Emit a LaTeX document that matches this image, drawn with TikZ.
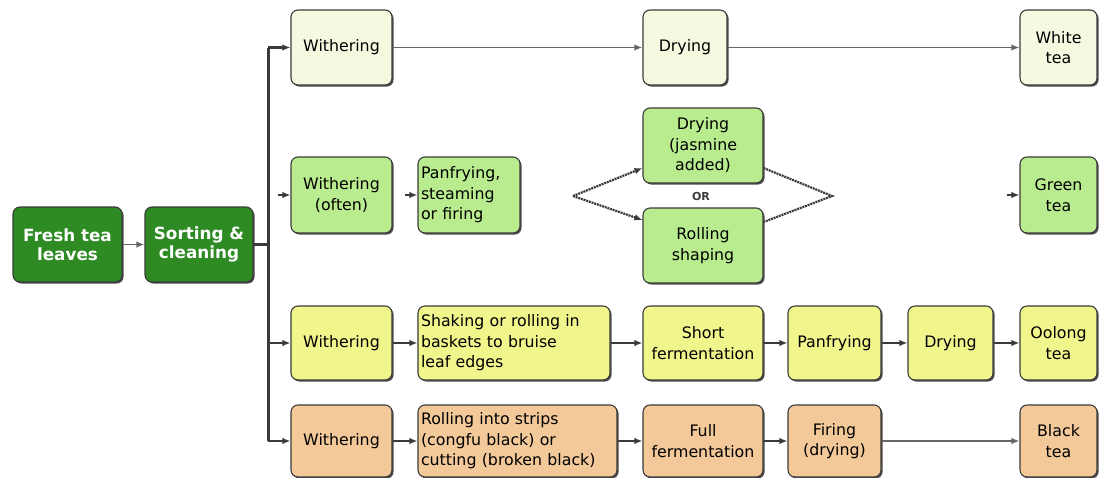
\documentclass[tikz,border=0pt]{standalone}
\usepackage{fontspec}
\setmainfont{DejaVu Sans}
\usetikzlibrary{arrows.meta,shadows}
\definecolor{darkg}{HTML}{2E8B24}
\definecolor{rowA}{HTML}{F4FAE0}
\definecolor{rowB}{HTML}{B9EC8E}
\definecolor{rowC}{HTML}{F0F58C}
\definecolor{rowD}{HTML}{F3C99A}
\definecolor{edge}{HTML}{3A3A3A}
\tikzset{
  box/.style={rectangle, rounded corners=7pt, draw=edge, line width=1.1pt, inner sep=2pt,
    font=\fontsize{15.8}{20.5}\selectfont, align=center,
    drop shadow={shadow xshift=1.6pt, shadow yshift=-1.6pt, fill=black!70, opacity=1}},
  startbox/.style={box, fill=darkg, text=white, font=\bfseries\fontsize{16.8}{19}\selectfont},
  wa/.style={box, fill=rowA}, wb/.style={box, fill=rowB}, wc/.style={box, fill=rowC}, wd/.style={box, fill=rowD},
  tip/.style={-{Latex[length=8pt,width=6.5pt]}},
  thin/.style={tip, draw=black!60, line width=1.7pt},
  thick/.style={tip, draw=edge, line width=2.6pt},
  trunk/.style={draw=edge, line width=3pt},
  dia/.style={draw=edge, line width=2.2pt, dash pattern=on 2pt off 0.8pt},
}
\begin{document}
\begin{tikzpicture}[x=1pt,y=-1pt]
\useasboundingbox (0,0) rectangle (1099,477);
% start
\node[startbox, minimum width=109pt, minimum height=75pt] (fresh) at (67.5,244.5) {Fresh tea\\leaves};
\node[startbox, minimum width=108pt, minimum height=75pt] (sort) at (199,244.5) {Sorting \&\\cleaning};
% row 1
\node[wa, minimum width=101pt, minimum height=75pt] (w1) at (341.5,47.5) {Withering};
\node[wa, minimum width=84pt, minimum height=75pt] (d1) at (685,47.5) {Drying};
\node[wa, minimum width=77pt, minimum height=75pt] (white) at (1058.5,47.5) {White\\tea};
% row 2
\node[wb, minimum width=101pt, minimum height=76pt] (w2) at (341.5,195) {Withering\\(often)};
\node[wb, minimum width=102pt, minimum height=76pt, align=left, text width=96pt] (p2) at (469,195) {Panfrying,\\steaming\\or firing};
\node[wb, minimum width=120pt, minimum height=75pt] (dj) at (703,145.5) {Drying\\(jasmine\\added)};
\node[wb, minimum width=120pt, minimum height=75pt] (rs) at (703,245.5) {Rolling\\shaping};
\node[wb, minimum width=77pt, minimum height=76pt] (green) at (1058.5,195) {Green\\tea};
\node[font=\bfseries\fontsize{11}{12}\selectfont, text=edge] (or) at (701,196) {OR};
% row 3
\node[wc, minimum width=101pt, minimum height=74pt] (w3) at (341.5,343) {Withering};
\node[wc, minimum width=192pt, minimum height=74pt, align=left, text width=186pt] (sh) at (514,343) {Shaking or rolling in\\baskets to bruise\\leaf edges};
\node[wc, minimum width=120pt, minimum height=74pt] (sf) at (703,343) {Short\\fermentation};
\node[wc, minimum width=93pt, minimum height=74pt] (pf3) at (834.5,343) {Panfrying};
\node[wc, minimum width=85pt, minimum height=74pt] (d3) at (950.5,343) {Drying};
\node[wc, minimum width=77pt, minimum height=74pt] (oolong) at (1058.5,343) {Oolong\\tea};
% row 4
\node[wd, minimum width=101pt, minimum height=72pt] (w4) at (341.5,441) {Withering};
\node[wd, minimum width=199pt, minimum height=72pt, align=left, text width=193pt] (rr) at (517.5,441) {Rolling into strips\\(congfu black) or\\cutting (broken black)};
\node[wd, minimum width=120pt, minimum height=72pt] (ff) at (703,441) {Full\\fermentation};
\node[wd, minimum width=93pt, minimum height=72pt] (fi) at (834.5,441) {Firing\\(drying)};
\node[wd, minimum width=77pt, minimum height=72pt] (black) at (1058.5,441) {Black\\tea};
% trunk
\coordinate (t1) at (268,47.5);
\coordinate (t2) at (268,195);
\coordinate (t3) at (268,343);
\coordinate (t4) at (268,441);
\coordinate (ts) at (268,244.5);
\draw[trunk] (t1) -- (t4);
\draw[trunk] (sort.east) -- (ts);
\draw[thin] (fresh.east) -- (sort.west);
\draw[thick] (t1) -- (w1.west);
\draw[thick] (t3) -- (w3.west);
\draw[thick] (t4) -- (w4.west);
% row 1
\draw[thin] (w1.east) -- (d1.west);
\draw[thin] (d1.east) -- (white.west);
% row 2 (only arrow tips visible)
\coordinate (s1) at (278,195);
\coordinate (s2) at (405,195);
\coordinate (s3) at (1007,195);
\draw[thick] (s1) -- (w2.west);
\draw[thick] (s2) -- (p2.west);
\draw[thick] (s3) -- (green.west);
\coordinate (dl) at (573,196);
\coordinate (dr) at (832,196);
\draw[dia, tip] (dl) -- (dj.west |- 0,168);
\draw[dia, tip] (dl) -- (rs.west |- 0,220);
\draw[dia] (dj.east |- 0,168) -- (dr) -- (rs.east |- 0,222);
% row 3
\draw[thick] (w3.east) -- (sh.west);
\draw[thick] (sh.east) -- (sf.west);
\draw[thick] (sf.east) -- (pf3.west);
\draw[thick] (pf3.east) -- (d3.west);
\draw[thick] (d3.east) -- (oolong.west);
% row 4
\draw[thick] (w4.east) -- (rr.west);
\draw[thick] (rr.east) -- (ff.west);
\draw[thick] (ff.east) -- (fi.west);
\draw[thin] (fi.east) -- (black.west);
\end{tikzpicture}
\end{document}
